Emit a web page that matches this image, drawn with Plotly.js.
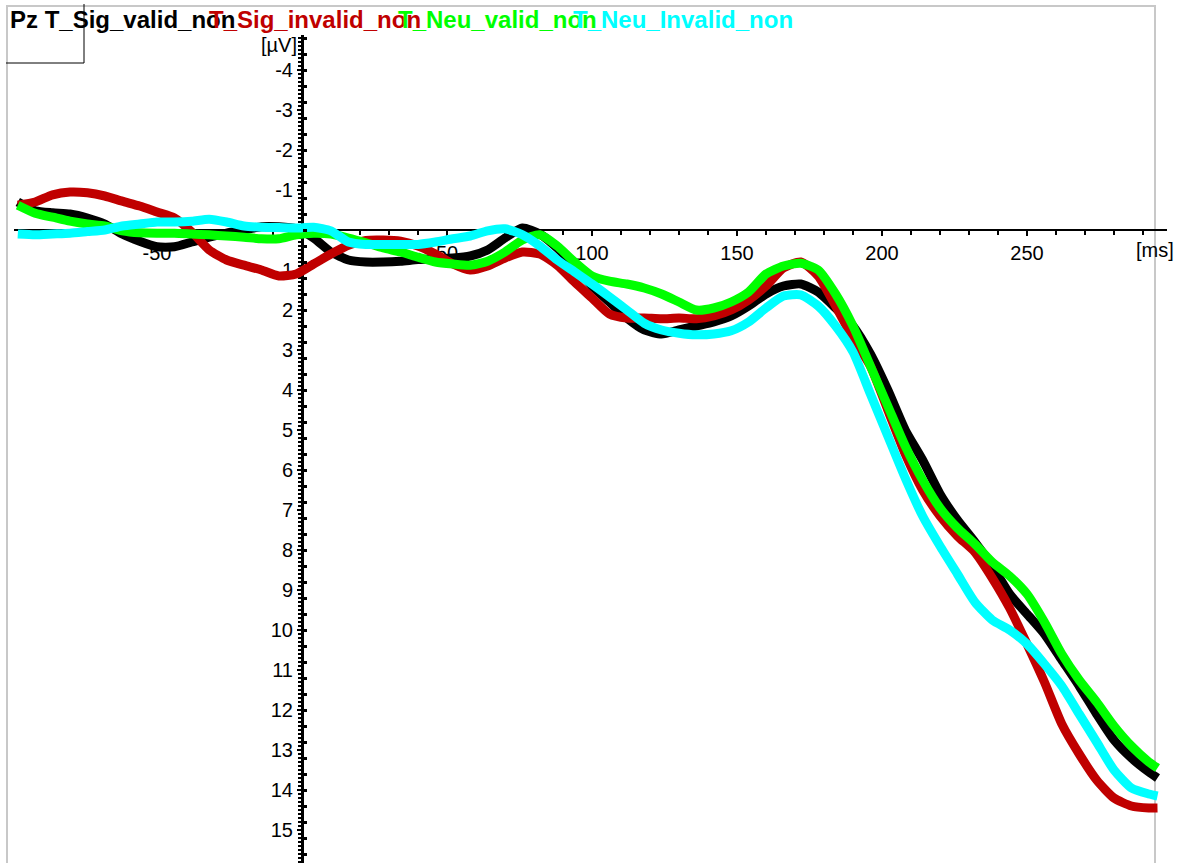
<!DOCTYPE html>
<html>
<head>
<meta charset="utf-8">
<script src="https://cdn.plot.ly/plotly-3.0.1.min.js"></script>
<style>html,body{margin:0;padding:0;background:#fff;}#chart{width:1185px;height:863px;}</style>
</head>
<body>
<div id="chart"></div>
<script>
// ---- data (time in ms, amplitude in µV; positive plotted downward) ----
const timeMs = [-98,-92,-86,-80,-74,-68,-62,-56,-50,-44,-38,-32,-26,-20,-14,-8,-2,4,10,16,22,28,34,40,46,52,58,64,70,76,82,88,94,100,106,112,118,124,130,136,142,148,154,160,166,172,178,184,190,196,202,208,214,220,226,232,238,244,250,256,262,268,274,280,286,292,295];

const sigValid = [-0.7,-0.48,-0.43,-0.4,-0.3,-0.15,0.1,0.28,0.42,0.42,0.3,0.18,0.08,0.0,-0.08,-0.08,-0.03,0.2,0.55,0.75,0.8,0.8,0.78,0.74,0.72,0.7,0.65,0.5,0.2,-0.05,0.1,0.45,0.9,1.4,1.8,2.2,2.5,2.6,2.5,2.4,2.3,2.15,1.9,1.6,1.4,1.35,1.55,1.95,2.4,3.1,4.0,5.0,5.75,6.6,7.25,7.8,8.4,9.1,9.6,10.1,10.75,11.4,12.1,12.75,13.2,13.55,13.7];

const sigInvalid = [-0.62,-0.7,-0.88,-0.95,-0.93,-0.85,-0.72,-0.6,-0.45,-0.3,0.05,0.5,0.75,0.88,1.0,1.15,1.1,0.85,0.6,0.38,0.26,0.25,0.28,0.4,0.6,0.85,1.0,0.9,0.7,0.55,0.6,0.88,1.3,1.7,2.1,2.2,2.2,2.22,2.2,2.22,2.15,2.0,1.75,1.4,0.95,0.8,1.15,1.9,2.7,3.4,4.5,5.6,6.5,7.15,7.65,8.05,8.7,9.45,10.35,11.3,12.35,13.1,13.75,14.2,14.4,14.45,14.45];

const neuValid = [-0.62,-0.42,-0.32,-0.22,-0.15,-0.1,0.02,0.07,0.08,0.08,0.1,0.12,0.15,0.18,0.22,0.22,0.12,0.08,0.1,0.2,0.32,0.45,0.55,0.68,0.8,0.85,0.88,0.78,0.55,0.25,0.12,0.4,0.8,1.15,1.28,1.35,1.45,1.6,1.8,2.0,1.95,1.8,1.55,1.1,0.9,0.83,1.0,1.6,2.4,3.4,4.4,5.4,6.25,6.95,7.45,7.85,8.3,8.65,9.1,9.8,10.6,11.25,11.8,12.4,12.9,13.3,13.45];

const neuInvalid = [0.1,0.12,0.1,0.08,0.04,0.0,-0.1,-0.15,-0.2,-0.2,-0.22,-0.27,-0.2,-0.1,-0.07,-0.06,-0.05,-0.07,0.02,0.3,0.36,0.36,0.36,0.36,0.3,0.22,0.15,0.02,-0.03,0.12,0.4,0.75,1.05,1.35,1.67,2.0,2.33,2.5,2.58,2.62,2.6,2.52,2.3,1.95,1.65,1.62,1.9,2.4,3.05,4.1,5.15,6.2,7.15,7.9,8.6,9.3,9.75,10.0,10.35,10.85,11.4,12.1,12.8,13.5,13.95,14.1,14.15];

const seriesNames = ["Pz T_Sig_valid_non", "T_Sig_invalid_non", "T_Neu_valid_non", "T_Neu_Invalid_non"];
const seriesColors = ["#000000", "#c00000", "#00ff00", "#00ffff"];

const xTickVals = [-50, 50, 100, 150, 200, 250];
const xTickText = ["-50", "50", "100", "150", "200", "250"];
const yTickVals = [-4,-3,-2,-1,1,2,3,4,5,6,7,8,9,10,11,12,13,14,15];
const yTickText = yTickVals.map(String);

// ---- geometry (pixels of the 1185x863 figure) ----
const W = 1185, H = 863;
const PXMS = 2.9, PXUV = 40;
const X0PX = 302, Y0PX = 230;
const xLeftPx = 14, xRightPx = 1167, yTopPx = 35;
const px = v => v / W;
const py = v => (H - v) / H;

const xRange = [(xLeftPx - X0PX) / PXMS, (xRightPx - X0PX) / PXMS];
const yRange = [(H - Y0PX) / PXUV, (yTopPx - Y0PX) / PXUV];

const font = "Liberation Sans, Arial, sans-serif";

const allSeries = [sigValid, sigInvalid, neuValid, neuInvalid];
const traces = allSeries.map((vals, i) => ({
  type: "scatter", mode: "lines", x: timeMs, y: vals, name: seriesNames[i],
  line: {color: seriesColors[i], width: 9, shape: "spline", smoothing: 0.6},
  hoverinfo: "skip", showlegend: false
}));
// carrier trace for the right-side tick ladder (invisible)
traces.push({type: "scatter", mode: "lines", x: timeMs, y: sigValid, yaxis: "y2",
  line: {width: 0, color: "rgba(0,0,0,0)"}, hoverinfo: "skip", showlegend: false});

const labelX = [8, 207, 396, 571];
const annotations = seriesNames.map((t, i) => ({
  text: "<b>" + t + "</b>", xref: "paper", yref: "paper", x: px(labelX[i]), y: py(20),
  xanchor: "left", yanchor: "middle", showarrow: false,
  font: {family: font, size: 24, color: seriesColors[i]}
}));
annotations.push({text: "[µV]", xref: "paper", yref: "paper", x: px(299), y: py(45),
  xanchor: "right", yanchor: "middle", showarrow: false, font: {family: font, size: 20, color: "#000"}});
annotations.push({text: "[ms]", xref: "paper", yref: "paper", x: px(1134), y: py(250),
  xanchor: "left", yanchor: "middle", showarrow: false, font: {family: font, size: 20, color: "#000"}});

const layout = {
  width: W, height: H, margin: {l: 0, r: 0, t: 0, b: 0, pad: 0},
  paper_bgcolor: "#ffffff", plot_bgcolor: "rgba(0,0,0,0)",
  showlegend: false,
  xaxis: {
    domain: [px(xLeftPx), px(xRightPx)], range: xRange, anchor: "free", position: py(Y0PX),
    showline: true, linecolor: "#000", linewidth: 2, showgrid: false, zeroline: false,
    tickmode: "array", tickvals: xTickVals, ticktext: xTickText,
    ticks: "outside", ticklen: 5, tickwidth: 2, tickcolor: "#000",
    minor: {tickmode: "linear", tick0: 0, dtick: 10, ticks: "outside", ticklen: 4, tickwidth: 1.5, tickcolor: "#000", showgrid: false},
    tickfont: {family: font, size: 20, color: "#000"}, layer: "below traces"
  },
  yaxis: {
    domain: [0, py(yTopPx)], range: yRange, anchor: "free", position: px(X0PX), side: "left",
    showline: true, linecolor: "#000", linewidth: 2.5, showgrid: false, zeroline: false,
    tickmode: "array", tickvals: yTickVals, ticktext: yTickText,
    ticks: "outside", ticklen: 4, tickwidth: 2, tickcolor: "#000",
    minor: {tickmode: "linear", tick0: 0, dtick: 0.1, ticks: "outside", ticklen: 3, tickwidth: 1.5, tickcolor: "#000", showgrid: false},
    tickfont: {family: font, size: 20, color: "#000"}, layer: "below traces"
  },
  yaxis2: {
    domain: [0, py(yTopPx)], range: yRange, anchor: "free", position: px(X0PX), overlaying: "y", side: "left",
    showline: false, showgrid: false, zeroline: false, showticklabels: false,
    tickmode: "linear", tick0: 0, dtick: 0.4, ticks: "inside", ticklen: 4, tickwidth: 3, tickcolor: "#000"
  },
  shapes: [
    {type: "rect", xref: "paper", yref: "paper", x0: px(7), x1: px(1155), y0: -0.05, y1: py(6),
     line: {color: "#c8c8c8", width: 2}, layer: "below"},
    {type: "line", xref: "paper", yref: "paper", x0: px(84), x1: px(84), y0: py(4), y1: py(63),
     line: {color: "#000", width: 1}},
    {type: "line", xref: "paper", yref: "paper", x0: px(6), x1: px(84), y0: py(63), y1: py(63),
     line: {color: "#000", width: 1}}
  ],
  annotations: annotations
};

Plotly.newPlot("chart", traces, layout, {displayModeBar: false, staticPlot: true});
</script>
</body>
</html>
